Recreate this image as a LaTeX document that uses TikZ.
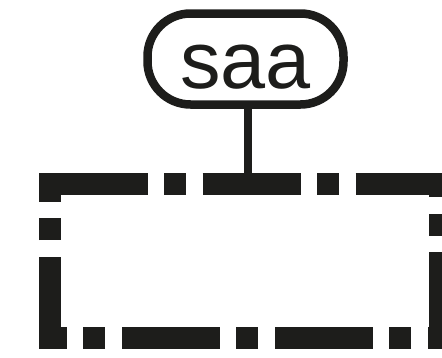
\documentclass[tikz,border=0pt]{standalone}
\usepackage{fontspec}
\setsansfont{Liberation Sans}
\usepackage{tikz}
\definecolor{ink}{HTML}{1D1D1B}

\begin{document}
\begin{tikzpicture}[x=1pt, y=-1pt]
		\tikzset{term/.style={shape = rectangle, draw = ink, text = ink, rounded corners = 43pt, line width = 8.5pt, minimum width = 196pt, minimum height = 91pt, text height = 58pt, text depth = 0pt, font = \sffamily\fontsize{81}{97}\selectfont}}
		\tikzset{group/.style={shape = rectangle, inner sep = 0pt, outer sep = 0pt, minimum width = 390.5pt, minimum height = 154pt}}
		\tikzset{edge/.style={draw = ink, line width = 8.5pt}}
		\tikzset{dashdot it/.style={draw = ink, line width = 22pt,
				dash pattern = on 98pt off 16.5pt on 22pt off 16.5pt}}
		\tikzset{corner/.style={draw = ink, line width = 22pt}}
		\useasboundingbox (0, 0) rectangle (442, 357);
					%nodes
					\node[term] (saa) at (245.5, 59) {saa};
					\node[group] (grp) at (244.75, 260.5) {};
					%edges
					\draw[edge] ([xshift = 2.7pt]saa.south) -- ([xshift = 2.7pt]saa.south |- grp.north);
					\draw[dashdot it] (grp.north west) -- (grp.north east) -- (grp.south east) -- (grp.south west) -- cycle;
					\draw[corner] ([yshift = -10pt]grp.north west) -- (grp.north west) -- ([xshift = 10pt]grp.north west);
					
\end{tikzpicture}
\end{document}
